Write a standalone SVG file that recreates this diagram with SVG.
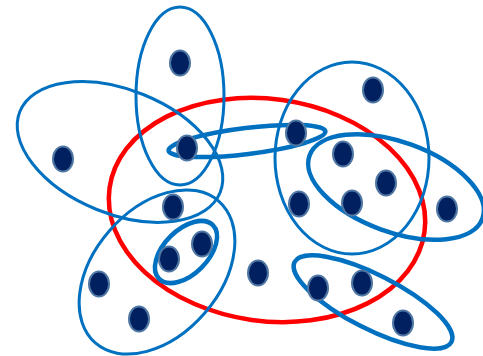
<svg xmlns="http://www.w3.org/2000/svg" width="483" height="356" viewBox="0 0 483 356">
<style>
.set{fill:none;stroke:#0070C0;stroke-width:3}
.thick{stroke-width:4.5}
.red{fill:none;stroke:#FF0000;stroke-width:4.5}
.n{fill:#002060;stroke:#4F77A3;stroke-width:2}
</style>
<rect width="483" height="356" fill="#FFFFFF"/>
<g id="connectors">
<ellipse class="red" cx="267" cy="210" rx="159" ry="111" transform="rotate(8 267 210)"/>
<ellipse class="set" cx="180" cy="96" rx="44" ry="89"/>
<ellipse class="set" cx="120" cy="152" rx="108" ry="62" transform="rotate(22 120 152)"/>
<ellipse class="set thick" cx="247" cy="141" rx="79" ry="13" transform="rotate(-7 247 141)"/>
<ellipse class="set" cx="352" cy="158" rx="77" ry="96"/>
<ellipse class="set thick" cx="396" cy="187" rx="92" ry="45" transform="rotate(20 396 187)"/>
<ellipse class="set" cx="157" cy="272" rx="94" ry="63" transform="rotate(-49 157 272)"/>
<ellipse class="set thick" cx="186" cy="252" rx="38" ry="22" transform="rotate(-45 186 252)"/>
<ellipse class="set thick" cx="373" cy="302" rx="88" ry="27" transform="rotate(27 373 302)"/>
</g>
<g id="n1"><ellipse class="n" cx="180" cy="63" rx="10" ry="12.5"/></g>
<g id="n2"><ellipse class="n" cx="63" cy="159" rx="10" ry="12.5"/></g>
<g id="n3"><ellipse class="n" cx="187" cy="148" rx="10" ry="12.5"/></g>
<g id="n4"><ellipse class="n" cx="296" cy="133" rx="10" ry="12.5"/></g>
<g id="n5"><ellipse class="n" cx="373" cy="90" rx="10" ry="12.5"/></g>
<g id="n6"><ellipse class="n" cx="343" cy="154" rx="10" ry="12.5"/></g>
<g id="n7"><ellipse class="n" cx="386" cy="183" rx="10" ry="12.5"/></g>
<g id="n8"><ellipse class="n" cx="352" cy="203" rx="10" ry="12.5"/></g>
<g id="n9"><ellipse class="n" cx="299" cy="204" rx="10" ry="12.5"/></g>
<g id="n10"><ellipse class="n" cx="447" cy="209" rx="10" ry="12.5"/></g>
<g id="n11"><ellipse class="n" cx="173" cy="207" rx="10" ry="12.5"/></g>
<g id="n12"><ellipse class="n" cx="202" cy="244" rx="10" ry="12.5"/></g>
<g id="n13"><ellipse class="n" cx="169" cy="259" rx="10" ry="12.5"/></g>
<g id="n14"><ellipse class="n" cx="99" cy="284" rx="10" ry="12.5"/></g>
<g id="n15"><ellipse class="n" cx="139" cy="319" rx="10" ry="12.5"/></g>
<g id="n16"><ellipse class="n" cx="258" cy="273" rx="10" ry="12.5"/></g>
<g id="n17"><ellipse class="n" cx="318" cy="288" rx="10" ry="12.5"/></g>
<g id="n18"><ellipse class="n" cx="362" cy="283" rx="10" ry="12.5"/></g>
<g id="n19"><ellipse class="n" cx="403" cy="323" rx="10" ry="12.5"/></g>
</svg>
